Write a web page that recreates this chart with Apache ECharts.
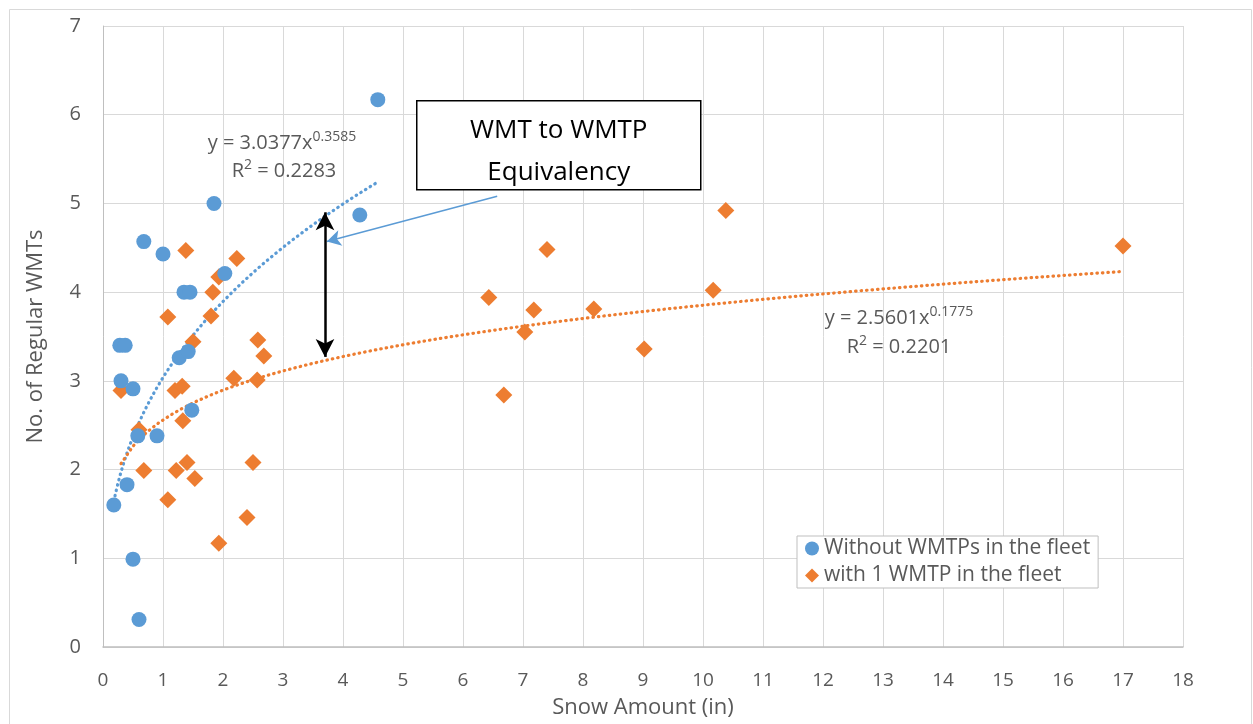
<!DOCTYPE html>
<html><head><meta charset="utf-8">
<script src="https://cdn.jsdelivr.net/npm/echarts@6/dist/echarts.min.js"></script>
<style>html,body{margin:0;padding:0;background:#fff}#c{width:1253px;height:724px}</style>
</head><body><div id="c"></div>
<script>
// Data
const seriesNames = ['Without WMTPs in the fleet', 'with 1 WMTP in the fleet'];
const blueX = [4.58,1.85,4.28,0.68,1.0,2.03,1.35,1.45,0.28,0.37,1.27,1.42,0.30,0.50,1.48,0.58,0.90,0.40,0.18,0.50,0.60];
const blueY = [6.17,5.0,4.87,4.57,4.43,4.21,4.0,4.0,3.40,3.40,3.26,3.33,3.0,2.91,2.67,2.38,2.38,1.83,1.60,0.99,0.31];
const orangeX = [1.38,2.23,1.93,1.83,1.08,1.80,1.50,2.58,2.68,1.20,1.32,0.30,2.18,2.57,1.33,0.60,1.40,0.68,1.22,1.53,2.50,1.08,2.40,1.93,7.40,6.43,7.18,8.18,7.03,9.02,6.68,10.17,10.38,17.0];
const orangeY = [4.47,4.38,4.17,4.00,3.72,3.73,3.44,3.46,3.28,2.89,2.94,2.89,3.03,3.01,2.55,2.45,2.08,1.99,1.99,1.90,2.08,1.66,1.46,1.17,4.48,3.94,3.80,3.81,3.55,3.36,2.84,4.02,4.92,4.52];
const blueFit = [3.0377, 0.3585, 0.2283];   // a, b, R²  (y = a·x^b)
const orangeFit = [2.5601, 0.1775, 0.2201];
const xTicks = [0,1,2,3,4,5,6,7,8,9,10,11,12,13,14,15,16,17,18];
const yTicks = [0,1,2,3,4,5,6,7];
const boxText = ['WMT to WMTP', 'Equivalency'];

const BLUE = '#5B9BD5', ORANGE = '#ED7D31', GRAY = '#595959';
const FONT = 'Open Sans, Liberation Sans, sans-serif';

function pairs(xs, ys){ return xs.map((x,i)=>[x, ys[i]]); }
function trend(fit, xs){
  const lo = Math.min(...xs), hi = Math.max(...xs), out = [];
  const n = 80;
  for (let i=0;i<=n;i++){ const x = lo + (hi-lo)*i/n; out.push([x, fit[0]*Math.pow(x, fit[1])]); }
  return out;
}
const rich = {
  n:{fontSize:20, fontFamily:FONT, fill:GRAY, color:GRAY},
  s:{fontSize:14, fontFamily:FONT, fill:GRAY, color:GRAY, padding:[0,0,12,0]}
};
function eqText(fit){ return '{n|y = '+fit[0].toFixed(4)+'x}{s|'+fit[1].toFixed(4)+'}'; }
function r2Text(fit){ return '{n|R}{s|2}{n| = '+fit[2].toFixed(4)+'}'; }

const chart = echarts.init(document.getElementById('c'), null, {renderer:'canvas'});

chart.setOption({
  animation:false,
  backgroundColor:'#fff',
  grid: {left:103, top:26, right:70, bottom:74},
  xAxis: {
    type:'value', min:xTicks[0], max:xTicks[xTicks.length-1], interval:1,
    name:'Snow Amount (in)', nameLocation:'middle', nameGap:50,
    nameTextStyle:{color:GRAY, fontSize:22, fontFamily:FONT},
    axisLine:{show:true, lineStyle:{color:'#BFBFBF', width:1.5}},
    axisTick:{show:false},
    axisLabel:{color:GRAY, fontSize:19, fontFamily:FONT, margin:24},
    splitLine:{show:true, lineStyle:{color:'#D9D9D9', width:1}}
  },
  yAxis: {
    type:'value', min:yTicks[0], max:yTicks[yTicks.length-1], interval:1,
    name:'No. of Regular WMTs', nameLocation:'middle', nameGap:56, nameRotate:90,
    nameTextStyle:{color:GRAY, fontSize:22, fontFamily:FONT},
    axisLine:{show:true, lineStyle:{color:'#BFBFBF', width:1}},
    axisTick:{show:false},
    axisLabel:{color:GRAY, fontSize:20, fontFamily:FONT, margin:22},
    splitLine:{show:true, lineStyle:{color:'#D9D9D9', width:1}}
  },
  legend: {
    data:[{name:seriesNames[0], icon:'circle'},{name:seriesNames[1], icon:'diamond'}],
    orient:'vertical', left:797, top:536, itemWidth:14, itemHeight:14, itemGap:6,
    padding:[2,8,2,8], borderColor:'#BFBFBF', borderWidth:1, backgroundColor:'#fff',
    textStyle:{color:GRAY, fontSize:21, fontFamily:FONT}
  },
  series: [
    { name:'blueTrend', type:'line', data:trend(blueFit, blueX), showSymbol:false, silent:true,
      lineStyle:{color:BLUE, width:3.2, type:[0.5,5], cap:'round'}, z:1 },
    { name:'orangeTrend', type:'line', data:trend(orangeFit, orangeX), showSymbol:false, silent:true,
      lineStyle:{color:ORANGE, width:3.2, type:[0.5,5], cap:'round'}, z:1 },
    { name:seriesNames[0], type:'scatter', symbol:'circle', symbolSize:15,
      itemStyle:{color:BLUE, opacity:1}, data:pairs(blueX, blueY), z:3,
      markLine:{ silent:true, animation:false, symbol:['none','arrow'], symbolSize:[12,14], label:{show:false},
        lineStyle:{color:BLUE, width:1.5, type:'solid'},
        data:[[{coord:[6.57,5.08]},{coord:[3.73,4.57]}]] } },
    { name:seriesNames[1], type:'scatter', symbol:'diamond', symbolSize:17,
      itemStyle:{color:ORANGE, opacity:1}, data:pairs(orangeX, orangeY), z:2,
      markLine:{ silent:true, animation:false, symbol:['arrow','arrow'], symbolSize:[14,18], label:{show:false},
        lineStyle:{color:'#000', width:2.5, type:'solid'},
        data:[[{coord:[3.7,4.9]},{coord:[3.7,3.27]}]] } }
  ],
  graphic: [
    { type:'rect', left:7, top:7, shape:{width:1242, height:722}, silent:true,
      style:{fill:'none', stroke:'#D9D9D9', lineWidth:1}, z:-10 },
    { type:'group', left:416, top:100, z:20, children:[
      { type:'rect', shape:{x:0, y:0, width:284, height:89}, z:20,
        style:{fill:'#fff', stroke:'#000', lineWidth:1.5} },
      { type:'text', x:142, y:30, z:21,
        style:{text:boxText[0], fill:'#000', font:'26px '+FONT, textAlign:'center', textVerticalAlign:'middle'} },
      { type:'text', x:142, y:72, z:21,
        style:{text:boxText[1], fill:'#000', font:'26px '+FONT, textAlign:'center', textVerticalAlign:'middle'} }
    ]},
    { type:'text', x:282, y:143, z:10,
      style:{ rich:rich, text:eqText(blueFit), fill:GRAY, textAlign:'center', textVerticalAlign:'middle' } },
    { type:'text', x:284, y:171, z:10,
      style:{ rich:rich, text:r2Text(blueFit), fill:GRAY, textAlign:'center', textVerticalAlign:'middle' } },
    { type:'text', x:899, y:318, z:10,
      style:{ rich:rich, text:eqText(orangeFit), fill:GRAY, textAlign:'center', textVerticalAlign:'middle' } },
    { type:'text', x:899, y:347, z:10,
      style:{ rich:rich, text:r2Text(orangeFit), fill:GRAY, textAlign:'center', textVerticalAlign:'middle' } }
  ]
});
</script></body></html>
